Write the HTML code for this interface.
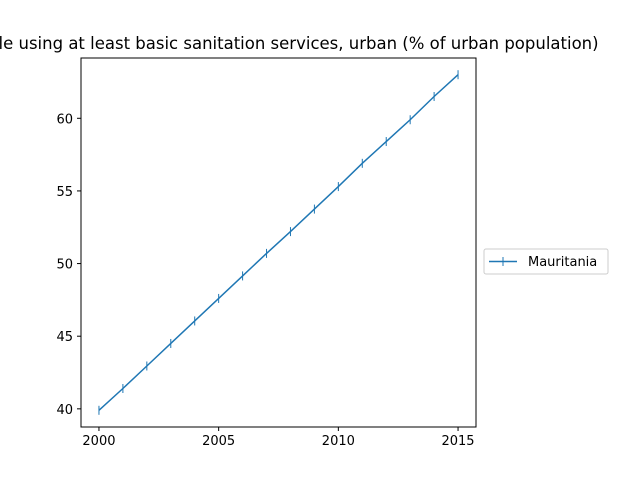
<!DOCTYPE html>
<html><head><meta charset="utf-8"><style>
body{margin:0;background:#fff;}
svg{display:block;font-family:"DejaVu Sans","Liberation Sans",sans-serif;}
</style></head><body>
<svg id="chart" width="640" height="480" viewBox="0 0 640 480">
<rect x="0" y="0" width="640" height="480" fill="#fff"/>
<text x="278.5" y="49" font-size="16.5" text-anchor="middle">People using at least basic sanitation services, urban (% of urban population)</text>
<g id="axes"></g>
<rect x="81" y="58" width="395" height="369" fill="none" stroke="#000" stroke-width="1"/>
<g>
<rect x="484" y="249" width="124" height="25" rx="2" fill="#fff" stroke="#ccc"/>
<line x1="489" y1="261.5" x2="517" y2="261.5" stroke="#1f77b4" stroke-width="1.5"/>
<line x1="503" y1="257" x2="503" y2="266" stroke="#1f77b4" stroke-width="1"/>
<text x="528" y="266" font-size="13">Mauritania</text>
</g>
</svg>
<script>
const years=[2000,2001,2002,2003,2004,2005,2006,2007,2008,2009,2010,2011,2012,2013,2014,2015];
const values=[39.9,41.4,42.95,44.5,46.05,47.6,49.15,50.7,52.2,53.75,55.3,56.9,58.4,59.9,61.5,63.0];
const xTicks=[2000,2005,2010,2015];
const yTicks=[40,45,50,55,60];
const NS="http://www.w3.org/2000/svg";
const L=81,R=476,T=58,B=427;
const xMin=1999.25,xMax=2015.75,yMin=38.75,yMax=64.15;
function sx(v){return L+(v-xMin)/(xMax-xMin)*(R-L);}
function sy(v){return B-(v-yMin)/(yMax-yMin)*(B-T);}
const g=document.getElementById('axes');
function mk(t,a){const e=document.createElementNS(NS,t);for(const k in a)e.setAttribute(k,a[k]);g.appendChild(e);return e;}
xTicks.forEach(v=>{
 const l=mk('line',{x1:sx(v),x2:sx(v),y1:B,y2:B+4,stroke:'#000'});
 
 
 const t=mk('text',{x:sx(v),y:B+18,'font-size':13,'text-anchor':'middle'});t.textContent=v;
 
 
});
yTicks.forEach(v=>{
 const l=mk('line',{x1:L-4,x2:L,y1:sy(v),y2:sy(v),stroke:'#000'});
 
 
 const t=mk('text',{x:L-8,y:sy(v)+5,'font-size':13,'text-anchor':'end'});t.textContent=v;
 
 
});
const pts=years.map((y,i)=>sx(y)+','+sy(values[i])).join(' ');
const pl=mk('polyline',{points:pts,fill:'none',stroke:'#1f77b4','stroke-width':1.5});


years.forEach((y,i)=>{
 const m=mk('line',{x1:sx(y),x2:sx(y),y1:sy(values[i])-4.5,y2:sy(values[i])+4.5,stroke:'#1f77b4','stroke-width':1});
 
 
});
</script>
</body></html>
